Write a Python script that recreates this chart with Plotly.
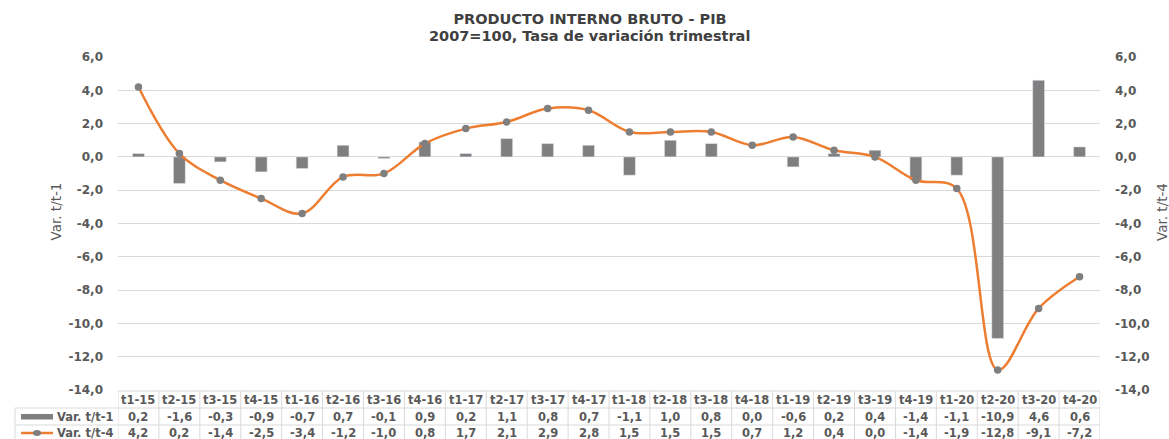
import plotly.graph_objects as go

categories = ["t1-15","t2-15","t3-15","t4-15","t1-16","t2-16","t3-16","t4-16",
              "t1-17","t2-17","t3-17","t4-17","t1-18","t2-18","t3-18","t4-18",
              "t1-19","t2-19","t3-19","t4-19","t1-20","t2-20","t3-20","t4-20"]
var_t1 = [0.2,-1.6,-0.3,-0.9,-0.7,0.7,-0.1,0.9,0.2,1.1,0.8,0.7,
          -1.1,1.0,0.8,0.0,-0.6,0.2,0.4,-1.4,-1.1,-10.9,4.6,0.6]
var_t4 = [4.2,0.2,-1.4,-2.5,-3.4,-1.2,-1.0,0.8,1.7,2.1,2.9,2.8,
          1.5,1.5,1.5,0.7,1.2,0.4,0.0,-1.4,-1.9,-12.8,-9.1,-7.2]
series_names = ["Var. t/t-1", "Var. t/t-4"]
tick_vals = [6,4,2,0,-2,-4,-6,-8,-10,-12,-14]
tick_text = ["6,0","4,0","2,0","0,0","-2,0","-4,0","-6,0","-8,0","-10,0","-12,0","-14,0"]
title_lines = ["PRODUCTO INTERNO BRUTO - PIB", "2007=100, Tasa de variación trimestral"]

GRAY = "#7F7F7F"
ORANGE = "#ED7D31"
TXT = "#595959"
GRID = "#D9D9D9"
FONT = "DejaVu Sans"

W, H = 1169, 439
L, R, T, B = 118, 69, 57, 49
plot_h = H - T - B
plot_w = W - L - R

def py(pix):
    return (H - B - pix) / plot_h

def px(pix):
    return (pix - L) / plot_w

def fmt(v):
    return f"{v:.1f}".replace(".", ",")

n = len(categories)
xs = list(range(n))

fig = go.Figure()
fig.add_trace(go.Bar(x=xs, y=var_t1, name=series_names[0], marker_color=GRAY,
                     width=0.29, yaxis="y"))
fig.add_trace(go.Scatter(x=xs, y=var_t4, name=series_names[1], mode="lines+markers",
                         line=dict(color=ORANGE, width=2.5, shape="spline", smoothing=1.0),
                         marker=dict(color=GRAY, size=7.5), yaxis="y2"))

tfont = dict(size=11.5, color=TXT, family=FONT)
annotations = []
shapes = []
row_text_y = [400, 417, 433]
y_lines = [391, 408, 425, 442]
rows = [categories, [fmt(v) for v in var_t1], [fmt(v) for v in var_t4]]
for r, vals in enumerate(rows):
    for i, t in enumerate(vals):
        annotations.append(dict(x=i, y=py(row_text_y[r]), xref="x", yref="paper",
                                text="<b>%s</b>" % t, showarrow=False, font=tfont,
                                xanchor="center", yanchor="middle"))
# vertical lines
for i in range(n + 1):
    shapes.append(dict(type="line", xref="x", yref="paper", x0=i - 0.5, x1=i - 0.5,
                       y0=py(y_lines[0]), y1=py(y_lines[-1]), line=dict(color=GRID, width=1)))
# horizontal lines
shapes.append(dict(type="line", xref="paper", yref="paper", x0=px(118), x1=px(1100),
                   y0=py(y_lines[0]), y1=py(y_lines[0]), line=dict(color=GRID, width=1)))
for yl in y_lines[1:]:
    shapes.append(dict(type="line", xref="paper", yref="paper", x0=px(15), x1=px(1100),
                       y0=py(yl), y1=py(yl), line=dict(color=GRID, width=1)))
shapes.append(dict(type="line", xref="paper", yref="paper", x0=px(15), x1=px(15),
                   y0=py(y_lines[1]), y1=py(y_lines[-1]), line=dict(color=GRID, width=1)))
# legend keys in table
shapes.append(dict(type="rect", xref="paper", yref="paper", x0=px(21), x1=px(53),
                   y0=py(414), y1=py(419.5), fillcolor=GRAY, line=dict(width=0)))
shapes.append(dict(type="line", xref="paper", yref="paper", x0=px(21), x1=px(53),
                   y0=py(433), y1=py(433), line=dict(color=ORANGE, width=2.5)))
shapes.append(dict(type="circle", xref="paper", yref="paper", x0=px(33), x1=px(41),
                   y0=py(430), y1=py(436), fillcolor=GRAY, line=dict(width=0)))
for k, yy in enumerate(row_text_y[1:]):
    annotations.append(dict(x=px(55), y=py(yy), xref="paper", yref="paper",
                            text="<b>%s</b>" % series_names[k],
                            showarrow=False, font=tfont, xanchor="left", yanchor="middle"))
# axis titles
afont = dict(size=13.5, color=TXT, family=FONT)
annotations.append(dict(x=px(55.5), y=py(212), xref="paper", yref="paper", text=series_names[0],
                        showarrow=False, textangle=-90, font=afont,
                        xanchor="center", yanchor="middle"))
annotations.append(dict(x=px(1162), y=py(212), xref="paper", yref="paper", text=series_names[1],
                        showarrow=False, textangle=-90, font=afont,
                        xanchor="center", yanchor="middle"))
# subtitle line
title_font = dict(size=14.5, color="#404040", family=FONT)
annotations.append(dict(x=px(589), y=py(35.5), xref="paper", yref="paper",
                        text="<b>%s</b>" % title_lines[1], showarrow=False, font=title_font,
                        xanchor="center", yanchor="middle"))

yax = dict(range=[-14, 6], tickvals=tick_vals, ticktext=["<b>%s</b>" % t for t in tick_text],
           tickfont=dict(size=12, color=TXT, family=FONT), showline=False, zeroline=False,
           ticks="", ticklabelstandoff=14)
fig.update_layout(
    width=W, height=H,
    margin=dict(l=L, r=R, t=T, b=B),
    paper_bgcolor="white", plot_bgcolor="white",
    showlegend=False,
    title=dict(text="<b>%s</b>" % title_lines[0], x=590 / W, xanchor="center",
               y=1 - 18.5 / H, yanchor="middle", font=title_font),
    xaxis=dict(range=[-0.5, n - 0.5], showticklabels=False, showgrid=False, zeroline=False,
               showline=False, ticks=""),
    yaxis=dict(**yax, showgrid=True, gridcolor=GRID, gridwidth=1),
    yaxis2=dict(**yax, overlaying="y", side="right", showgrid=False),
    annotations=annotations, shapes=shapes,
)
fig.write_html("out.html", config={"displayModeBar": False},
               post_script="document.body.style.margin='0px';")
